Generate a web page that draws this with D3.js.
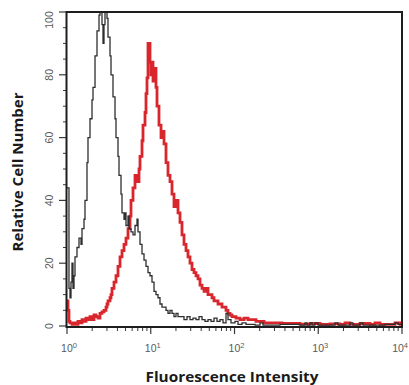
<!DOCTYPE html>
<html><head><meta charset="utf-8">
<script src="https://cdn.jsdelivr.net/npm/d3@7"></script>
<style>html,body{margin:0;padding:0;background:#fff;overflow:hidden}</style>
</head><body><svg id="c" width="409" height="385"></svg>
<script>
// Isotype control (black) histogram: fluorescence intensity (bin start) and relative cell number
const isoIntensity = [1.00,1.056,1.086,1.116,1.147,1.179,1.212,1.246,1.316,1.391,1.470,1.511,1.596,1.640,1.733,1.781,1.882,1.989,2.044,2.160,2.282,2.411,2.478,2.618,2.691,2.765,2.843,3.004,3.087,3.262,3.353,3.542,3.743,3.847,4.064,4.178,4.414,4.537,4.794,4.927,5.064,5.351,5.500,5.811,6.140,6.487,6.854,7.045,7.443,7.864,8.309,8.778,9.274,9.796,10.35,10.94,11.55,12.21,12.89,13.62,14.40,15.21,16.07,16.98,17.94,18.95,20.02,21.16,22.97,24.95,27.09,29.43,31.95,34.70,37.69,40.93,44.45,48.27,52.42,56.93,61.82,67.14,72.91,79.18,83.65,90.83,101.4,110.1,122.9,137.2,175.7,201.6,218.9,349.4,605.5,694.8,734.0,797.0,842.4,914.9,993.2,1585,1721,2394,2600,3152,3422,6266,8250,8960,10000];
const isoCount = [44,12,9,14,20,12,16,22,25,28,26,31,34,40,52,60,66,72,76,86,94,99,100,96,90,96,100,98,92,86,80,73,66,60,54,48,42,36,34,36,32,35,31,30,29,32,34,30,26,23,21,19,17,16,14,11,10,9,7,6,6,5,4,5,4,3,4,3,3,2,3,2,2.5,2,3,2,1.5,2,1.5,2.5,1.5,2,1,4,2,1,1.5,0.5,1,0.5,0.3,1,0.3,0.5,0.3,1,0.3,1,0.3,1,0.3,1,0.3,1,0.3,1,0.3,0.5,1,0.5,0.5];

// Stained sample (red) histogram
const stainIntensity = [1.00,1.028,1.056,1.086,1.147,1.212,1.281,1.353,1.430,1.511,1.596,1.686,1.781,1.882,1.989,2.101,2.220,2.345,2.478,2.618,2.765,2.922,3.004,3.087,3.262,3.353,3.446,3.641,3.847,4.064,4.295,4.537,4.794,5.064,5.351,5.652,5.811,6.140,6.487,6.854,7.241,7.443,7.864,8.083,8.540,8.778,9.021,9.274,9.796,10.07,10.35,10.64,11.24,11.55,11.88,12.54,13.26,13.62,14.40,15.21,16.07,16.98,17.94,18.95,20.02,21.16,22.35,23.61,24.95,26.37,27.85,29.43,31.09,32.85,34.70,36.67,38.73,40.93,43.24,45.68,48.27,50.99,53.87,56.93,60.13,63.53,67.14,70.93,74.94,79.18,83.65,88.36,93.35,98.63,104.2,110.1,116.3,129.9,145.0,161.8,180.6,201.6,225.0,265.4,313.0,369.2,460.0,605.5,797.0,1049,1381,1818,2086,2394,3152,4149,4761,5463,7191,8250,9465,10000];
const stainCount = [8,5,1.5,1,0.5,1,0.5,1.5,1,2,1.5,2.5,2,3,2,3.5,3,2.5,4,4.5,5,6,7,8,9,10,12,14,16,19,22,24,26,28,31,35,40,44,48,46,50,54,59,64,68,74,79,90,84,80,84,78,82,76,70,64,60,62,58,52,48,46,42,38,40,36,33,29,26,24,22,20,18,17,16,15,13,12,11,12,10,10,9,8,8,7,7,6,6,5,4,3.5,3,3,2.5,2.5,2,2.5,2,2,1.5,1.5,1,1,1,0.8,0.8,0.6,0.8,0.5,0.7,0.5,1,0.5,0.8,0.5,1,0.5,0.5,1,0.5,0.5];

const xDecades = [0,1,2,3,4];
const yMajorTicks = [0,20,40,60,80,100];
const yMinorTicks = [5,10,15,25,30,35,45,50,55,65,70,75,85,90,95];
const xTitle = "Fluorescence Intensity";
const yTitle = "Relative Cell Number";

const svg = d3.select("#c");
const L = 67, R = 402, T = 12, B = 327;
const x = d3.scaleLog().domain([1, 10000]).range([L, R]);
const y = d3.scaleLinear().domain([0, 100]).range([B - 1, T]);

svg.append("defs").append("clipPath").attr("id","pc")
  .append("rect").attr("x",L).attr("y",T-4).attr("width",R-L).attr("height",B-T+3);

const tickColor = "#3a3a3a";
const labelColor = "#5a5a5a";

// x ticks
const minorX = [];
xDecades.slice(0,-1).forEach(d => { for (let k = 2; k <= 9; k++) minorX.push(k * Math.pow(10, d)); });
const majorX = xDecades.map(d => Math.pow(10, d));
const gx = svg.append("g");
gx.selectAll("line.mi").data(minorX).join("line")
  .attr("x1", d => x(d)).attr("x2", d => x(d)).attr("y1", B).attr("y2", B + 4)
  .attr("stroke", tickColor).attr("stroke-width", 1);
gx.selectAll("line.ma").data(majorX).join("line")
  .attr("x1", d => x(d)).attr("x2", d => x(d)).attr("y1", B).attr("y2", B + 7)
  .attr("stroke", tickColor).attr("stroke-width", 1.2);
const xl = gx.selectAll("text").data(xDecades).join("text")
  .attr("x", (d, i) => i === xDecades.length - 1 ? 408 : x(Math.pow(10, d)) + 2).attr("y", 352)
  .attr("text-anchor", (d, i) => i === xDecades.length - 1 ? "end" : "middle")
  .attr("font-family", "Liberation Sans, Arial, sans-serif")
  .attr("font-size", 10.5).attr("fill", labelColor);
xl.append("tspan").text("10");
xl.append("tspan").attr("dy", -4.5).attr("font-size", 7.5).text(d => d);

// y ticks
const gy = svg.append("g");
gy.selectAll("line.mi").data(yMinorTicks).join("line")
  .attr("x1", L - 4).attr("x2", L).attr("y1", d => y(d)).attr("y2", d => y(d))
  .attr("stroke", tickColor).attr("stroke-width", 1);
gy.selectAll("line.ma").data(yMajorTicks).join("line")
  .attr("x1", L - 8).attr("x2", L).attr("y1", d => y(d)).attr("y2", d => y(d))
  .attr("stroke", tickColor).attr("stroke-width", 1.2);
gy.selectAll("text").data(yMajorTicks).join("text")
  .attr("transform", d => `translate(53,${y(d) + (d === 100 ? 8 : 0)}) rotate(-90)`)
  .attr("text-anchor", "middle")
  .attr("font-family", "Liberation Sans, Arial, sans-serif")
  .attr("font-size", 10.5).attr("fill", labelColor)
  .text(d => d);

// histograms
const line = d3.line().curve(d3.curveStepAfter).x(d => x(d[0])).y(d => y(d[1]));
const plot = svg.append("g").attr("clip-path", "url(#pc)");
plot.append("path").datum(d3.zip(stainIntensity, stainCount))
  .attr("d", line).attr("fill", "none").attr("stroke", "#d8262c")
  .attr("stroke-width", 2.8).attr("stroke-linejoin", "miter");
plot.append("path").datum(d3.zip(isoIntensity, isoCount))
  .attr("d", line).attr("fill", "none").attr("stroke", "#2e2e2e")
  .attr("stroke-width", 1.3);

// frame
svg.append("rect").attr("x", L - 0.5).attr("y", T).attr("width", R - L + 0.5).attr("height", B - T)
  .attr("fill", "none").attr("stroke", "#1e1e1e").attr("stroke-width", 2);

// titles
svg.append("text").attr("x", 232).attr("y", 382).attr("text-anchor", "middle")
  .attr("font-family", "Open Sans, Lato, sans-serif").attr("font-weight", 700)
  .attr("font-size", 14).attr("fill", "#1a1a1a")
  .attr("textLength", 173).attr("lengthAdjust", "spacingAndGlyphs")
  .text(xTitle);
svg.append("text").attr("transform", "translate(23,172) rotate(-90)").attr("text-anchor", "middle")
  .attr("font-family", "Open Sans, Lato, sans-serif").attr("font-weight", 700)
  .attr("font-size", 14).attr("fill", "#1a1a1a")
  .attr("textLength", 159).attr("lengthAdjust", "spacingAndGlyphs")
  .text(yTitle);
</script></body></html>
